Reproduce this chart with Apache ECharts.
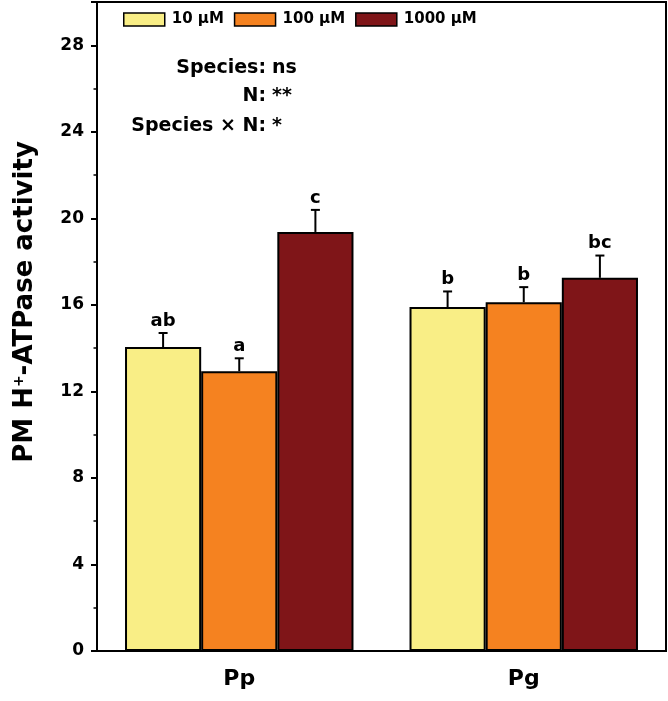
<!DOCTYPE html>
<html>
<head>
<meta charset="utf-8">
<script src="https://cdn.jsdelivr.net/npm/echarts@6/dist/echarts.min.js"></script>
<style>
html,body{margin:0;padding:0;background:#fff;}
#c{width:668px;height:701px;}
</style>
</head>
<body>
<div id="c"></div>
<script>
const categories = ['Pp', 'Pg'];
const seriesNames = ['10 µM', '100 µM', '1000 µM'];
const means10 = [14.05, 15.90];
const means100 = [12.93, 16.12];
const means1000 = [19.37, 17.25];
const se10 = [0.65, 0.72];
const se100 = [0.60, 0.70];
const se1000 = [1.02, 1.03];
const letters10 = ['ab', 'b'];
const letters100 = ['a', 'b'];
const letters1000 = ['c', 'bc'];
const yTicks = [0, 4, 8, 12, 16, 20, 24, 28];
const annotations = [['Species:', 'ns'], ['N:', '**'], ['Species × N:', '*']];
const yTitle = 'PM H{sup|+}-ATPase activity';

const FONT = 'DejaVu Sans';
const colors = ['#F9EE86', '#F58220', '#7F1518'];
const GAP = 0.197;
const means = [means10, means100, means1000];
const ses = [se10, se100, se1000];
const letters = [letters10, letters100, letters1000];

const chart = echarts.init(document.getElementById('c'));

const barSeries = seriesNames.map((n, i) => ({
  name: n,
  type: 'bar',
  data: means[i],
  barGap: '0%',
  barCategoryGap: (GAP * 100) + '%',
  itemStyle: { color: colors[i], borderColor: '#000', borderWidth: 2 },
  z: 2
}));

const errSeries = seriesNames.map((n, i) => ({
  type: 'custom',
  name: n + ' err',
  data: categories.map((c, k) => [k, means[i][k], ses[i][k]]),
  z: 3,
  silent: true,
  renderItem: function (params, api) {
    const k = api.value(0);
    const m = api.value(1);
    const s = api.value(2);
    const band = api.size([1, 0])[0];
    const bw = band * (1 - GAP) / 3;
    const center = api.coord([k, m]);
    const x = center[0] + (i - 1) * bw;
    const yTop = center[1];
    const yErr = api.coord([k, m + s])[1];
    const cap = 4.5;
    return {
      type: 'group',
      children: [
        { type: 'line', shape: { x1: x, y1: yTop, x2: x, y2: yErr }, style: { stroke: '#000', lineWidth: 2 } },
        { type: 'line', shape: { x1: x - cap, y1: yErr, x2: x + cap, y2: yErr }, style: { stroke: '#000', lineWidth: 2 } },
        { type: 'text', x: x, y: yErr - 3, style: { text: letters[i][k], fontFamily: FONT, fontWeight: 'bold', fontSize: 18, fill: '#000', textAlign: 'center', textVerticalAlign: 'bottom' } }
      ]
    };
  }
}));

const graphics = [];
const annY = [68, 96, 126];
annotations.forEach((a, j) => {
  graphics.push({ type: 'text', x: 266, y: annY[j], style: { text: a[0], fontFamily: FONT, fontWeight: 'bold', fontSize: 19, fill: '#000', textAlign: 'right', textVerticalAlign: 'middle' } });
  graphics.push({ type: 'text', x: 272, y: annY[j], style: { text: a[1], fontFamily: FONT, fontWeight: 'bold', fontSize: 19, fill: '#000', textAlign: 'left', textVerticalAlign: 'middle' } });
});
graphics.push({
  type: 'text', x: 25, y: 302, rotation: Math.PI / 2,
  style: {
    text: yTitle, fontFamily: FONT, fontWeight: 'bold', fontSize: 26, fill: '#000',
    textAlign: 'center', textVerticalAlign: 'middle',
    rich: { sup: { fontFamily: FONT, fontWeight: 'bold', fontSize: 14, fill: '#000', padding: [0, 0, 12, 0] } }
  }
});

chart.setOption({
  animation: false,
  backgroundColor: '#fff',
  grid: { left: 97, right: 2, top: 2, bottom: 50, show: true, borderColor: '#000', borderWidth: 2, backgroundColor: 'transparent' },
  legend: {
    data: seriesNames.map(n => ({ name: n, icon: 'rect' })),
    left: 123, top: 12, padding: 0,
    itemWidth: 41, itemHeight: 13, itemGap: 10,
    textStyle: { fontFamily: FONT, fontWeight: 'bold', fontSize: 15, color: '#000', padding: [2, 0, 0, 2] },
    itemStyle: { borderColor: '#000', borderWidth: 1.5 }
  },
  xAxis: {
    type: 'category',
    data: categories,
    axisLine: { lineStyle: { color: '#000', width: 2 } },
    axisTick: { show: false },
    axisLabel: { fontFamily: FONT, fontWeight: 'bold', fontSize: 22, color: '#000', margin: 17 }
  },
  yAxis: {
    type: 'value',
    min: 0, max: 30, interval: 4,
    axisLine: { show: true, lineStyle: { color: '#000', width: 2 } },
    axisTick: { show: true, inside: false, length: 6, lineStyle: { width: 2, color: '#000' } },
    minorTick: { show: true, splitNumber: 2, length: 3.5, lineStyle: { width: 1.5, color: '#000' } },
    splitLine: { show: false },
    axisLabel: {
      fontFamily: FONT, fontWeight: 'bold', fontSize: 17, color: '#000', margin: 13,
      showMaxLabel: false,
      formatter: v => (yTicks.indexOf(v) >= 0 ? String(v) : '')
    }
  },
  graphic: graphics,
  series: barSeries.concat(errSeries)
});
</script>
</body>
</html>
